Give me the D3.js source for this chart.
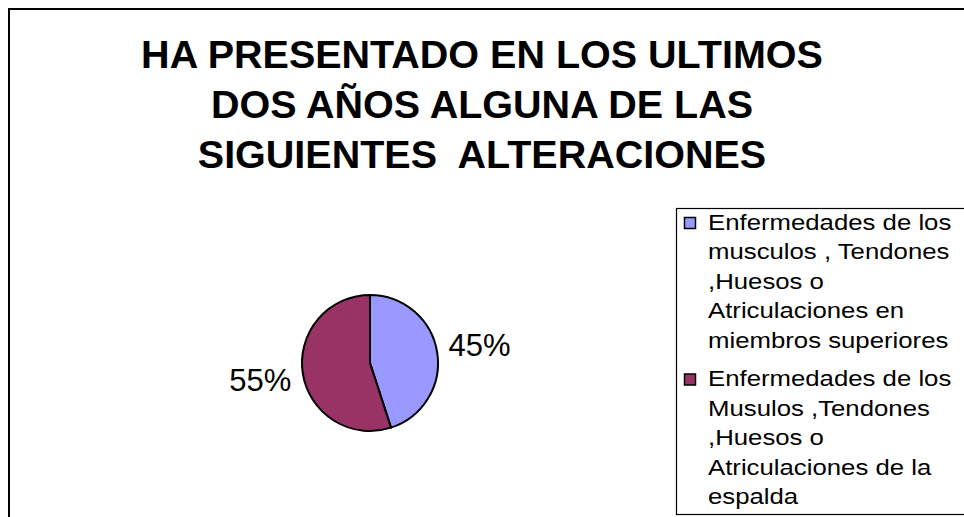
<!DOCTYPE html>
<html>
<head>
<meta charset="utf-8">
<script src="https://cdn.jsdelivr.net/npm/d3@7"></script>
<style>
  html, body { margin: 0; padding: 0; background: #fff; }
  text { font-family: "Liberation Sans", Arial, sans-serif; }
</style>
</head>
<body>
<div id="chart"></div>
<script>
// data
const categories = [
  ['Enfermedades de los', 'musculos , Tendones', ',Huesos o', 'Atriculaciones en', 'miembros superiores'],
  ['Enfermedades de los', 'Musulos ,Tendones', ',Huesos o', 'Atriculaciones de la', 'espalda']
];
const values = [45, 55];
const colors = ['#9999FF', '#993366'];
const titleLines = ['HA PRESENTADO EN LOS ULTIMOS', 'DOS AÑOS ALGUNA DE LAS', 'SIGUIENTES  ALTERACIONES'];

const
  width = 964,
  height = 517,
  cx = 370,
  cy = 363,
  radius = 68,
  labelRadius = 111
  ;

const svg = d3.select('#chart')
  .append('svg')
  .attr('width', width)
  .attr('height', height);

svg.append('rect')
  .attr('width', width).attr('height', height)
  .attr('fill', '#fff');

// outer chart frame (right and bottom edges fall outside the view)
svg.append('rect')
  .attr('x', 9).attr('y', 9)
  .attr('width', width + 20).attr('height', height + 20)
  .attr('fill', 'none')
  .attr('stroke', '#000')
  .attr('stroke-width', 2);

// title
svg.append('g')
  .selectAll('text')
  .data(titleLines)
  .join('text')
  .attr('x', 482)
  .attr('y', (d, i) => 68 + i * 50)
  .attr('text-anchor', 'middle')
  .style('font-size', '39.5px')
  .style('font-weight', 'bold')
  .style('white-space', 'pre')
  .text(d => d);

// pie
const pie = d3.pie().sort(null).value(d => d)(values);
const arc = d3.arc().innerRadius(0).outerRadius(radius);
const labelArc = d3.arc().innerRadius(labelRadius).outerRadius(labelRadius);

const g = svg.append('g')
  .attr('transform', `translate(${cx},${cy})`);

g.selectAll('path')
  .data(pie)
  .join('path')
  .attr('d', arc)
  .attr('fill', (d, i) => colors[i])
  .attr('stroke', '#000')
  .attr('stroke-width', 2)
  .attr('stroke-linejoin', 'round');

g.selectAll('text')
  .data(pie)
  .join('text')
  .attr('transform', d => `translate(${labelArc.centroid(d)})`)
  .attr('text-anchor', 'middle')
  .attr('dominant-baseline', 'central')
  .style('font-size', '31px')
  .text(d => d.data + '%');

// legend
svg.append('rect')
  .attr('x', 676.5).attr('y', 208.5)
  .attr('width', 300).attr('height', 306)
  .attr('fill', 'none')
  .attr('stroke', '#000')
  .attr('stroke-width', 1.2);

const lineH = 29.5, itemGap = 9, firstBase = 230;
let base = firstBase;
const legend = svg.append('g');
categories.forEach((lines, i) => {
  legend.append('rect')
    .attr('x', 684.5).attr('y', base - 12.5)
    .attr('width', 11).attr('height', 11)
    .attr('fill', colors[i])
    .attr('stroke', '#000')
    .attr('stroke-width', 1.5);
  const t = legend.append('g')
    .attr('transform', `translate(708,0) scale(1.12,1)`);
  lines.forEach((s, j) => {
    t.append('text')
      .attr('x', 0)
      .attr('y', base + j * lineH)
      .style('font-size', '23px')
      .text(s);
  });
  base += lines.length * lineH + itemGap;
});
</script>
</body>
</html>
